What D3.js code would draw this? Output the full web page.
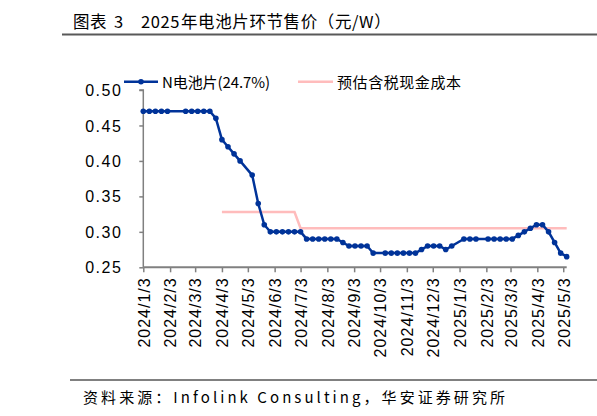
<!DOCTYPE html>
<html>
<head>
<meta charset="utf-8">
<title>电池片环节售价</title>
<script src="https://cdn.jsdelivr.net/npm/d3@7"></script>
<style type="text/css">
body {
	margin: 0;
	background: #ffffff;
}
text {
	font-family: "Noto Sans CJK SC", "Liberation Sans", sans-serif;
	fill: #000000;
}
.tick text {
	font-family: "Liberation Sans", Arial, sans-serif;
}
</style>
</head>
<body>
<div id="chart"></div>

<script type="text/javascript">
	// weekly quotes (Wed), holiday weeks are missing
	var dates = [
		'2024-01-03', '2024-01-10', '2024-01-17', '2024-01-24', '2024-01-31',
		'2024-02-21', '2024-02-28', '2024-03-06', '2024-03-13', '2024-03-20',
		'2024-03-27', '2024-04-03', '2024-04-10', '2024-04-17', '2024-04-24',
		'2024-05-08', '2024-05-15', '2024-05-22', '2024-05-29',
		'2024-06-05', '2024-06-12', '2024-06-19', '2024-06-26', '2024-07-03',
		'2024-07-10', '2024-07-17', '2024-07-24', '2024-07-31', '2024-08-07', '2024-08-14',
		'2024-08-21', '2024-08-28', '2024-09-04', '2024-09-11', '2024-09-18',
		'2024-09-25', '2024-10-09', '2024-10-16', '2024-10-23', '2024-10-30', '2024-11-06', '2024-11-13',
		'2024-11-20', '2024-11-27', '2024-12-04', '2024-12-11', '2024-12-18', '2024-12-25',
		'2025-01-08', '2025-01-15', '2025-01-22', '2025-02-05', '2025-02-12', '2025-02-19', '2025-02-26', '2025-03-05',
		'2025-03-12', '2025-03-19', '2025-03-26', '2025-04-02', '2025-04-09', '2025-04-16', '2025-04-23', '2025-04-30', '2025-05-07'
	];

	var nCell = [
		0.47, 0.47, 0.47, 0.47, 0.47,
		0.47, 0.47, 0.47, 0.47, 0.47,
		0.46, 0.43, 0.42, 0.41, 0.40,
		0.38, 0.34, 0.31, 0.30,
		0.30, 0.30, 0.30, 0.30, 0.30,
		0.29, 0.29, 0.29, 0.29, 0.29, 0.29,
		0.285, 0.28, 0.28, 0.28, 0.28,
		0.27, 0.27, 0.27, 0.27, 0.27, 0.27, 0.27,
		0.275, 0.28, 0.28, 0.28, 0.275, 0.28,
		0.29, 0.29, 0.29, 0.29, 0.29, 0.29, 0.29, 0.29,
		0.295, 0.30, 0.305, 0.31, 0.31, 0.30, 0.285, 0.27, 0.265
	];

	var cost = [
		null, null, null, null, null,
		null, null, null, null, null,
		null, 0.328, 0.328, 0.328, 0.328,
		0.328, 0.328, 0.328, 0.328,
		0.328, 0.328, 0.328, 0.328, 0.305,
		0.305, 0.305, 0.305, 0.305, 0.305, 0.305,
		0.305, 0.305, 0.305, 0.305, 0.305,
		0.305, 0.305, 0.305, 0.305, 0.305, 0.305, 0.305,
		0.305, 0.305, 0.305, 0.305, 0.305, 0.305,
		0.305, 0.305, 0.305, 0.305, 0.305, 0.305, 0.305, 0.305,
		0.305, 0.305, 0.305, 0.305, 0.305, 0.305, 0.305, 0.305, 0.305
	];

	var yTicks = [0.25, 0.30, 0.35, 0.40, 0.45, 0.50];
	var xTicks = [
		'2024-01-03', '2024-02-03', '2024-03-03', '2024-04-03', '2024-05-03', '2024-06-03',
		'2024-07-03', '2024-08-03', '2024-09-03', '2024-10-03', '2024-11-03', '2024-12-03',
		'2025-01-03', '2025-02-03', '2025-03-03', '2025-04-03', '2025-05-03'
	];

	var seriesNames = ['N电池片(24.7%)', '预估含税现金成本'];
	// title pieces, laid out with the wide gaps of the original
	var titleParts = ['图表', '3', '2025', '年电池片环节售价（元/W）'];
	var titleX = [73, 114, 141, 181];
	var sourceText = '资料来源：Infolink Consulting，华安证券研究所';

	var width = 597, height = 416;
	var blue = '#003399', pink = '#ffbcbc', axisColor = '#808080';

	var parse = d3.timeParse('%Y-%m-%d');
	var rows = dates.map(function(d, i) {
		return { date: parse(d), price: nCell[i], cost: cost[i] };
	});

	var svg = d3.select('#chart').append('svg')
		.attr('width', width)
		.attr('height', height);

	var x = d3.scaleTime()
		.domain(d3.extent(rows, function(d) { return d.date; }))
		.range([143.3, 566.7]);

	var y = d3.scaleLinear()
		.domain([0.25, 0.50])
		.range([267.3, 90]);

	// title and rules
	svg.append('text')
		.attr('y', 28)
		.attr('font-size', 16.5)
		.attr('letter-spacing', 0.6)
		.selectAll('tspan')
		.data(titleParts)
		.enter()
		.append('tspan')
		.attr('x', function(d, i) { return titleX[i]; })
		.text(function(d) { return d; });

	svg.append('line')
		.attr('x1', 62).attr('x2', width)
		.attr('y1', 34.5).attr('y2', 34.5)
		.attr('stroke', '#595959').attr('stroke-width', 2);

	svg.append('line')
		.attr('x1', 70).attr('x2', width)
		.attr('y1', 380).attr('y2', 380)
		.attr('stroke', axisColor).attr('stroke-width', 2);

	svg.append('text')
		.attr('x', 83).attr('y', 403)
		.attr('font-size', 15)
		.attr('textLength', 422)
		.attr('lengthAdjust', 'spacing')
		.text(sourceText);

	// axes
	var yAxis = d3.axisLeft(y)
		.tickValues(yTicks)
		.tickSize(4)
		.tickPadding(17)
		.tickFormat(d3.format('.2f'));

	var gy = svg.append('g')
		.attr('transform', 'translate(143.3,0)')
		.call(yAxis);
	gy.select('.domain').attr('stroke', axisColor).attr('stroke-width', 1.5)
		.attr('d', 'M-4,' + y(0.50) + 'H0V' + y(0.25));
	gy.selectAll('.tick line').attr('stroke', axisColor).attr('stroke-width', 1.5);
	gy.selectAll('.tick text')
		.attr('font-size', 16)
		.attr('letter-spacing', 1.5)
		.attr('dy', '0.35em');

	var xAxis = d3.axisBottom(x)
		.tickValues(xTicks.map(parse))
		.tickSize(5)
		.tickFormat(d3.timeFormat('%Y/%-m/%-d'));

	var gx = svg.append('g')
		.attr('transform', 'translate(0,' + y(0.25) + ')')
		.call(xAxis);
	gx.select('.domain').attr('stroke', axisColor).attr('stroke-width', 2)
		.attr('d', 'M' + x.range()[0] + ',0H' + x.range()[1]);
	gx.selectAll('.tick line').attr('stroke', axisColor).attr('stroke-width', 1.5);
	gx.selectAll('.tick text')
		.attr('font-size', 16)
		.attr('letter-spacing', 1)
		.attr('text-anchor', 'end')
		.attr('transform', 'rotate(-90)')
		.attr('x', -10)
		.attr('y', 0)
		.attr('dy', '0.36em');

	// series
	var costLine = d3.line()
		.defined(function(d) { return d.cost !== null; })
		.x(function(d) { return x(d.date); })
		.y(function(d) { return y(d.cost); });

	var priceLine = d3.line()
		.x(function(d) { return x(d.date); })
		.y(function(d) { return y(d.price); });

	svg.append('path')
		.datum(rows)
		.attr('fill', 'none')
		.attr('stroke', pink)
		.attr('stroke-width', 2.5)
		.attr('d', costLine);

	svg.append('path')
		.datum(rows)
		.attr('fill', 'none')
		.attr('stroke', blue)
		.attr('stroke-width', 2.5)
		.attr('d', priceLine);

	svg.selectAll('circle.pt')
		.data(rows)
		.enter()
		.append('circle')
		.attr('class', 'pt')
		.attr('cx', function(d) { return x(d.date); })
		.attr('cy', function(d) { return y(d.price); })
		.attr('r', 2.8)
		.attr('fill', blue);

	// legend
	var legend = svg.append('g');
	legend.append('line')
		.attr('x1', 124).attr('x2', 158).attr('y1', 81.7).attr('y2', 81.7)
		.attr('stroke', blue).attr('stroke-width', 2.5);
	legend.append('circle')
		.attr('cx', 141).attr('cy', 81.7).attr('r', 2.8).attr('fill', blue);
	legend.append('text')
		.attr('x', 162).attr('y', 87.5)
		.attr('font-size', 15)
		.attr('textLength', 108)
		.attr('lengthAdjust', 'spacing')
		.text(seriesNames[0]);

	legend.append('line')
		.attr('x1', 298).attr('x2', 333).attr('y1', 81.7).attr('y2', 81.7)
		.attr('stroke', pink).attr('stroke-width', 2.5);
	legend.append('text')
		.attr('x', 337).attr('y', 87.5)
		.attr('font-size', 15)
		.attr('textLength', 124)
		.attr('lengthAdjust', 'spacing')
		.text(seriesNames[1]);
</script>
</body>
</html>
